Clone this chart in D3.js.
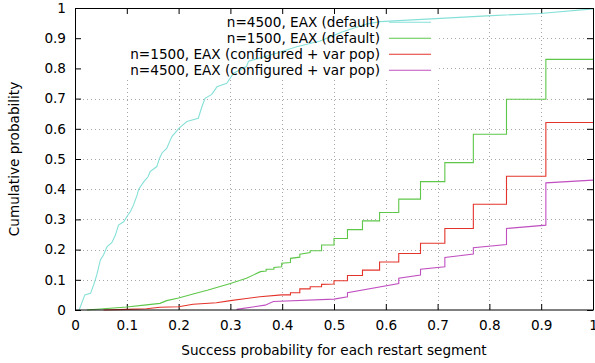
<!DOCTYPE html>
<html>
<head>
<meta charset="utf-8">
<script src="https://cdn.jsdelivr.net/npm/d3@7"></script>
<style>
  body { margin: 0; background: #fff; }
  svg { display: block; font-family: "DejaVu Sans", sans-serif; }
</style>
</head>
<body>
<svg id="chart" width="595" height="363"></svg>
<script>
// values, [success probability, cumulative probability]
const eax4500Default = [
  [0.008, 0], [0.019, 0.05], [0.03, 0.055], [0.036, 0.083], [0.042, 0.116],
  [0.049, 0.166], [0.055, 0.182], [0.062, 0.21], [0.071, 0.223], [0.078, 0.248],
  [0.084, 0.281], [0.094, 0.292], [0.1, 0.309], [0.107, 0.326], [0.113, 0.348],
  [0.12, 0.381], [0.123, 0.4], [0.133, 0.425], [0.141, 0.441], [0.145, 0.458],
  [0.158, 0.475], [0.163, 0.502], [0.168, 0.52], [0.177, 0.535], [0.187, 0.574],
  [0.201, 0.602], [0.216, 0.624], [0.238, 0.635], [0.245, 0.673], [0.251, 0.701],
  [0.264, 0.714], [0.274, 0.739], [0.293, 0.751], [0.306, 0.784], [0.331, 0.806],
  [0.335, 0.824], [0.389, 0.85], [0.428, 0.872], [0.473, 0.891], [0.518, 0.922],
  [0.563, 0.947], [0.589, 0.955], [0.795, 0.974], [0.898, 0.982], [1, 0.997]
];

const eax1500Default = [
  [0.023, 0], [0.1, 0.01], [0.138, 0.017], [0.164, 0.022], [0.177, 0.031],
  [0.2, 0.04], [0.228, 0.053], [0.257, 0.066], [0.3, 0.088], [0.331, 0.105],
  [0.358, 0.127], [0.369, 0.129], [0.369, 0.135], [0.384, 0.135], [0.384, 0.141],
  [0.399, 0.143], [0.399, 0.155], [0.416, 0.157], [0.416, 0.171], [0.434, 0.175],
  [0.434, 0.185], [0.454, 0.19], [0.454, 0.196], [0.476, 0.196], [0.476, 0.215],
  [0.5, 0.215], [0.5, 0.237], [0.526, 0.237], [0.526, 0.266], [0.555, 0.266],
  [0.555, 0.295], [0.588, 0.295], [0.588, 0.323], [0.625, 0.323], [0.625, 0.367],
  [0.667, 0.367], [0.667, 0.425], [0.714, 0.425], [0.714, 0.488], [0.769, 0.488],
  [0.769, 0.582], [0.833, 0.582], [0.833, 0.698], [0.909, 0.698], [0.909, 0.83],
  [1, 0.83]
];

const eax1500Configured = [
  [0.055, 0], [0.1, 0.002], [0.138, 0.004], [0.164, 0.009], [0.2, 0.011],
  [0.228, 0.019], [0.273, 0.024], [0.3, 0.031], [0.331, 0.038], [0.357, 0.044],
  [0.399, 0.05], [0.416, 0.05], [0.416, 0.057], [0.434, 0.057], [0.434, 0.07],
  [0.454, 0.07], [0.454, 0.077], [0.476, 0.077], [0.476, 0.085], [0.5, 0.086],
  [0.5, 0.097], [0.526, 0.097], [0.526, 0.114], [0.555, 0.114], [0.555, 0.132],
  [0.588, 0.132], [0.588, 0.159], [0.625, 0.159], [0.625, 0.187], [0.667, 0.187],
  [0.667, 0.221], [0.714, 0.221], [0.714, 0.27], [0.769, 0.27], [0.769, 0.35],
  [0.833, 0.35], [0.833, 0.443], [0.909, 0.443], [0.909, 0.621], [1, 0.621]
];

const eax4500Configured = [
  [0.312, 0.002], [0.367, 0.016], [0.383, 0.028], [0.5, 0.036], [0.526, 0.044],
  [0.526, 0.057], [0.625, 0.088], [0.625, 0.105], [0.667, 0.116], [0.667, 0.135],
  [0.714, 0.143], [0.714, 0.174], [0.769, 0.185], [0.769, 0.206], [0.833, 0.217],
  [0.833, 0.27], [0.909, 0.281], [0.909, 0.421], [1, 0.43]
];

const seriesNames = [
  "n=4500, EAX (default)",
  "n=1500, EAX (default)",
  "n=1500, EAX (configured + var pop)",
  "n=4500, EAX (configured + var pop)"
];
const seriesColors = ["#86e0d8", "#5ec74a", "#e3342b", "#c04fc0"];
const seriesData = [eax4500Default, eax1500Default, eax1500Configured, eax4500Configured];

const xTicks = [0, 0.1, 0.2, 0.3, 0.4, 0.5, 0.6, 0.7, 0.8, 0.9, 1];
const yTicks = [0, 0.1, 0.2, 0.3, 0.4, 0.5, 0.6, 0.7, 0.8, 0.9, 1];

const fontSize = 13.6;
const margin = { top: 8, right: 2, bottom: 53, left: 75 };
const svg = d3.select("#chart");
const width = +svg.attr("width") - margin.left - margin.right;
const height = +svg.attr("height") - margin.top - margin.bottom;

const g = svg.append("g").attr("transform", `translate(${margin.left},${margin.top})`);

const x = d3.scaleLinear().domain([0, 1]).range([0, width]);
const y = d3.scaleLinear().domain([0, 1]).range([height, 0]);

const fmt = d => String(+d.toFixed(1));

// grid
g.append("g")
  .selectAll("line")
  .data(xTicks.slice(1, -1))
  .join("line")
  .attr("x1", d => Math.round(x(d)) + 0.5)
  .attr("x2", d => Math.round(x(d)) + 0.5)
  .attr("y1", 0)
  .attr("y2", height)
  .attr("stroke", "#a8a8a8")
  .attr("stroke-dasharray", "1,3");

g.append("g")
  .selectAll("line")
  .data(yTicks.slice(1, -1))
  .join("line")
  .attr("y1", d => Math.round(y(d)) + 0.5)
  .attr("y2", d => Math.round(y(d)) + 0.5)
  .attr("x1", 0)
  .attr("x2", width)
  .attr("stroke", "#a8a8a8")
  .attr("stroke-dasharray", "1,3");

// opaque key box (drawn over grid, under curves)
const keyRight = x(0.7) + 1.5;
const keyBottom = y(0.77);
g.append("rect")
  .attr("x", 1)
  .attr("y", 1)
  .attr("width", keyRight - 1)
  .attr("height", keyBottom - 1)
  .attr("fill", "#fff");

// axes, ticks inward on all sides
g.append("g")
  .attr("transform", `translate(0,${height})`)
  .call(d3.axisBottom(x).tickValues(xTicks).tickFormat(fmt).tickSize(-6).tickPadding(10));
g.append("g")
  .call(d3.axisLeft(y).tickValues(yTicks).tickFormat(fmt).tickSize(-6).tickPadding(9));
g.append("g")
  .call(d3.axisTop(x).tickValues(xTicks).tickFormat("").tickSize(-6));
g.append("g")
  .attr("transform", `translate(${width},0)`)
  .call(d3.axisRight(y).tickValues(yTicks).tickFormat("").tickSize(-6));

g.selectAll(".domain").remove();
g.selectAll(".tick line").attr("stroke", "#000");
g.selectAll(".tick text")
  .attr("font-family", "DejaVu Sans, sans-serif")
  .attr("font-size", fontSize)
  .attr("fill", "#000");

// curves
const line = d3.line()
  .x(d => x(d[0]))
  .y(d => y(d[1]));

g.append("g")
  .selectAll("path")
  .data(seriesData)
  .join("path")
  .attr("fill", "none")
  .attr("stroke", (d, i) => seriesColors[i])
  .attr("stroke-width", 1.1)
  .attr("d", line);

// border
g.append("rect")
  .attr("x", 0.5)
  .attr("y", 0.5)
  .attr("width", width)
  .attr("height", height - 0.5)
  .attr("fill", "none")
  .attr("stroke", "#000");

// key
const key = g.append("g")
  .selectAll("g")
  .data(seriesNames)
  .join("g")
  .attr("transform", (d, i) => `translate(0,${14.3 + i * 16})`);

key.append("text")
  .attr("x", 305)
  .attr("dy", "0.35em")
  .attr("text-anchor", "end")
  .attr("font-size", fontSize)
  .text(d => d);

key.append("line")
  .attr("x1", 314)
  .attr("x2", 356)
  .attr("stroke", (d, i) => seriesColors[i])
  .attr("stroke-width", 1.1);

// axis titles
svg.append("text")
  .attr("x", margin.left + width / 2)
  .attr("y", 355)
  .attr("text-anchor", "middle")
  .attr("font-size", fontSize)
  .text("Success probability for each restart segment");

svg.append("text")
  .attr("transform", `translate(19,${margin.top + height / 2}) rotate(-90)`)
  .attr("text-anchor", "middle")
  .attr("font-size", fontSize)
  .text("Cumulative probability");
</script>
</body>
</html>
